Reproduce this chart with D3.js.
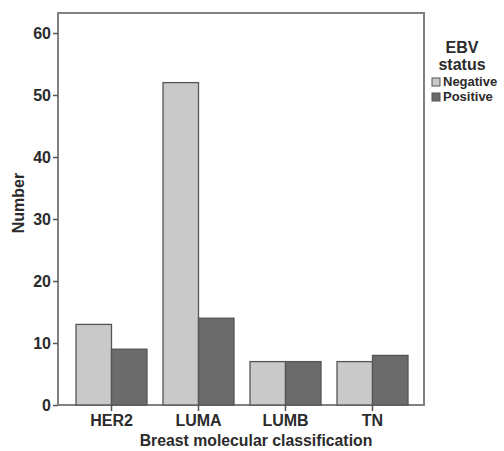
<!DOCTYPE html>
<html>
<head>
<meta charset="utf-8">
<script src="https://cdn.jsdelivr.net/npm/d3@7"></script>
<style>
body{margin:0;background:#fff;}
text{font-family:"Liberation Sans",Arial,sans-serif;font-weight:bold;fill:#2b2b2b;}
</style>
</head>
<body>
<svg width="504" height="451"></svg>
<script>
// data
var categories = ['HER2','LUMA','LUMB','TN'];
var negative = [13,52,7,7];
var positive = [9,14,7,8];
var yTicks = [0,10,20,30,40,50,60];
var seriesNames = ['Negative','Positive'];
var seriesColors = ['#c9c9c9','#6b6b6b'];

var svg = d3.select('svg');
var mLeft = 58, mRight = 424, mTop = 13, mBottom = 405;

var x = d3.scaleBand().domain(categories).range([76, 408]).paddingInner(0.184).paddingOuter(0);
var xs = d3.scaleBand().domain(seriesNames).range([0, x.bandwidth()]);
var y = d3.scaleLinear().domain([0,60]).range([mBottom, 33]);

// frame
svg.append('rect').attr('x',mLeft).attr('y',mTop).attr('width',mRight-mLeft).attr('height',mBottom-mTop)
  .attr('fill','none').attr('stroke','#808080').attr('stroke-width',2);

var rows = categories.map(function(c,i){ return {cat:c, vals:[negative[i], positive[i]]}; });
var g = svg.selectAll('.grp').data(rows).enter().append('g')
  .attr('transform', function(d){ return 'translate(' + x(d.cat) + ',0)'; });
g.selectAll('rect').data(function(d){ return d.vals.map(function(v,j){ return {v:v, s:seriesNames[j], c:seriesColors[j]}; }); })
  .enter().append('rect')
  .attr('x', function(d){ return xs(d.s); })
  .attr('y', function(d){ return y(d.v); })
  .attr('width', xs.bandwidth())
  .attr('height', function(d){ return mBottom - y(d.v); })
  .attr('fill', function(d){ return d.c; })
  .attr('stroke','#555').attr('stroke-width',1.3);

// y axis
var ya = svg.append('g').attr('transform','translate(' + mLeft + ',0)')
  .call(d3.axisLeft(y).tickValues(yTicks).tickSize(5).tickPadding(2));
ya.select('.domain').remove();
ya.selectAll('line').attr('stroke','#555').attr('stroke-width',1.5);
ya.selectAll('text').style('font-size','16px').attr('fill','#2b2b2b');

// x axis
var xa = svg.append('g').attr('transform','translate(0,' + mBottom + ')')
  .call(d3.axisBottom(x).tickSize(6).tickPadding(4));
xa.select('.domain').remove();
xa.selectAll('line').attr('stroke','#555').attr('stroke-width',1.5);
xa.selectAll('text').style('font-size','16px').attr('fill','#2b2b2b');

svg.append('text').attr('x',256).attr('y',446).attr('text-anchor','middle')
  .style('font-size','15.8px').text('Breast molecular classification');
svg.append('text').attr('transform','translate(24,203) rotate(-90)')
  .attr('text-anchor','middle').style('font-size','16px').text('Number');

// legend
svg.append('text').attr('x',462).attr('y',53).attr('text-anchor','middle').style('font-size','16px').text('EBV');
svg.append('text').attr('x',462).attr('y',70).attr('text-anchor','middle').style('font-size','16px').text('status');
var lg = svg.selectAll('.lg').data(seriesNames).enter().append('g')
  .attr('transform', function(d,i){ return 'translate(432,' + (78 + i*15) + ')'; });
lg.append('rect').attr('width',8).attr('height',8)
  .attr('fill', function(d,i){ return seriesColors[i]; }).attr('stroke','#555').attr('stroke-width',1);
lg.append('text').attr('x',11).attr('y',8).style('font-size','13px').text(function(d){ return d; });
</script>
</body>
</html>
